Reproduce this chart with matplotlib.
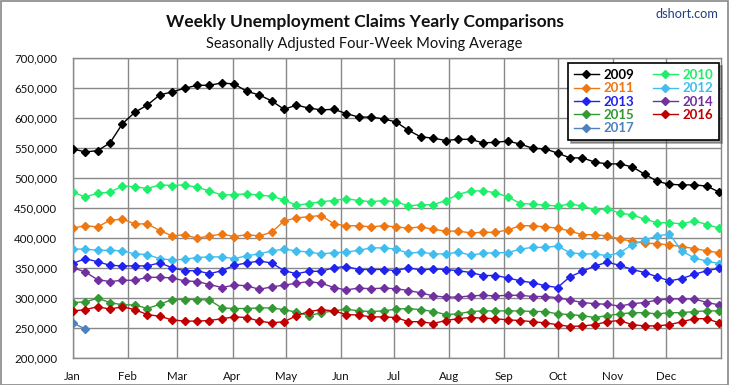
import matplotlib
matplotlib.use("Agg")
import matplotlib.pyplot as plt
from matplotlib.patches import Rectangle
from matplotlib.ticker import FuncFormatter
import numpy as np

plt.rcParams['font.family'] = ['Lato', 'DejaVu Sans']

# ---- data (thousands of claims), weekly points from Jan 1 ----
y2009 = [549, 544, 546, 559, 591, 610, 622, 639, 644, 650, 655, 655, 659, 657, 645, 639, 629, 615, 622,
         617, 614, 615, 608, 602, 602, 599, 594, 580, 569, 567, 563, 565, 565, 559, 560, 562, 557,
         550, 549, 542, 534, 534, 527, 524, 524, 519, 507, 495, 490, 489, 489, 487, 477]
y2010 = [477, 469, 475, 477, 487, 486, 483, 489, 488, 489, 485, 479, 472, 473, 474, 472, 470, 464, 455,
         458, 461, 463, 466, 463, 461, 463, 461, 454, 456, 456, 463, 473, 479, 479, 476, 469, 458,
         457, 455, 454, 457, 454, 447, 449, 442, 439, 432, 426, 426, 424, 429, 423, 417]
y2011 = [417, 421, 419, 430, 432, 424, 424, 413, 404, 406, 400, 404, 407, 403, 406, 404, 410, 429, 434,
         436, 438, 424, 421, 421, 419, 421, 419, 417, 419, 415, 412, 412, 409, 410, 410, 414, 421,
         421, 419, 417, 412, 406, 406, 404, 399, 395, 392, 391, 389, 386, 383, 379, 376]
y2012 = [382, 382, 380, 380, 379, 374, 373, 366, 364, 365, 368, 369, 369, 366, 371, 374, 379, 382, 379,
         377, 374, 376, 377, 380, 384, 384, 382, 375, 377, 374, 374, 377, 372, 375, 376, 376, 382,
         385, 385, 387, 376, 374, 374, 371, 376, 389, 397, 404, 407, 379, 367, 362, 358]
y2013 = [358, 366, 361, 355, 354, 354, 354, 359, 351, 346, 346, 341, 346, 355, 359, 362, 359, 346, 341,
         345, 345, 351, 353, 348, 348, 348, 346, 351, 347, 349, 348, 346, 343, 338, 338, 334, 329,
         326, 321, 318, 336, 345, 354, 360, 355, 348, 343, 336, 329, 333, 340, 346, 350]
y2014 = [351, 344, 331, 328, 330, 330, 335, 335, 334, 329, 328, 323, 318, 322, 321, 315, 319, 322, 325,
         328, 325, 318, 314, 317, 316, 317, 316, 313, 309, 304, 302, 302, 304, 305, 304, 305, 305,
         303, 303, 301, 297, 293, 291, 290, 287, 291, 293, 297, 299, 299, 299, 293, 289]
y2015 = [293, 294, 300, 293, 289, 289, 283, 290, 298, 298, 298, 297, 284, 283, 283, 284, 284, 281, 277,
         271, 276, 279, 282, 279, 278, 279, 282, 283, 281, 278, 273, 274, 278, 279, 279, 279, 279,
         278, 278, 274, 273, 271, 268, 271, 274, 276, 276, 274, 276, 276, 278, 279, 279]
y2016 = [279, 281, 286, 282, 286, 281, 273, 270, 264, 262, 262, 263, 266, 269, 268, 262, 259, 261, 271,
         278, 281, 279, 273, 272, 269, 269, 268, 261, 261, 258, 263, 266, 268, 267, 266, 264, 263,
         261, 259, 256, 253, 254, 256, 261, 263, 256, 254, 254, 256, 261, 266, 266, 259]
y2017 = [259, 249]

years = ['2009', '2010', '2011', '2012', '2013', '2014', '2015', '2016', '2017']
series = [y2009, y2010, y2011, y2012, y2013, y2014, y2015, y2016, y2017]
colors = ['#000000', '#1EEE6A', '#EE7711', '#3FBDEE', '#2222EE', '#7030A0', '#339933', '#C00000', '#4F81BD']

month_labels = ['Jan', 'Feb', 'Mar', 'Apr', 'May', 'Jun', 'Jul', 'Aug', 'Sep', 'Oct', 'Nov', 'Dec']
month_starts = [0, 31, 59, 90, 120, 151, 181, 212, 243, 273, 304, 334]
week_days = 7

fig = plt.figure(figsize=(7.29, 3.85), dpi=100)
W, H = 729, 385
ax = fig.add_axes([72.7 / W, 1 - 358.3 / H, (721 - 72.7) / W, 300 / H])

handles = {}
for yr, vals, c in zip(years, series, colors):
    x = np.arange(len(vals)) * week_days
    v = np.array(vals) * 1000
    ms = 4.0 if yr == '2009' else 3.7
    h, = ax.plot(x, v, color=c, lw=1.0, marker='D', ms=ms, mec=c, mfc=c, label=yr, zorder=3)
    handles[yr] = h

ax.set_xlim(0, 365)
ax.set_ylim(200000, 700000)
ax.set_xticks(month_starts)
ax.set_xticklabels(month_labels)
ax.set_yticks(np.arange(200000, 700001, 50000))
ax.yaxis.set_major_formatter(FuncFormatter(lambda v, p: f'{int(v):,}'))
ax.tick_params(length=0, labelsize=8.3, colors='#111111')
ax.tick_params(axis='x', pad=9)
ax.tick_params(axis='y', pad=11)
ax.grid(True, color='#888888', lw=1)
ax.set_axisbelow(True)
for s in ax.spines.values():
    s.set_color('#888888')
    s.set_linewidth(1)

order = ['2009', '2011', '2013', '2015', '2017', '2010', '2012', '2014', '2016']
leg = ax.legend([handles[k] for k in order], order, ncol=2, loc='upper right',
                bbox_to_anchor=(719 / W, 1 - 63 / H), bbox_transform=fig.transFigure,
                borderaxespad=0, frameon=True, fancybox=False, shadow=True,
                edgecolor='black', fontsize=9.5, labelcolor='linecolor',
                handlelength=1.9, handletextpad=0.35, columnspacing=1.4,
                labelspacing=0.1, borderpad=0.45, markerscale=1.0)
leg.get_frame().set_linewidth(1.2)
for t in leg.get_texts():
    t.set_fontweight('bold')

fig.text(0.5, 1 - 22 / H, 'Weekly Unemployment Claims Yearly Comparisons', ha='center', va='center',
         fontsize=12.5, fontweight='bold', color='#111111')
fig.text(0.5, 1 - 44 / H, 'Seasonally Adjusted Four-Week Moving Average', ha='center', va='center',
         fontsize=10.5, color='#111111')
fig.text(718 / W, 1 - 14 / H, 'dshort.com', ha='right', va='center', fontsize=9.2,
         color='#1F3F7F')

fig.patches.append(Rectangle((0.5 / W, 0.5 / H), 1 - 1.5 / W, 1 - 1.5 / H, transform=fig.transFigure,
                             fill=False, edgecolor='#888888', lw=1.2))

fig.savefig('out.png', dpi=100)
